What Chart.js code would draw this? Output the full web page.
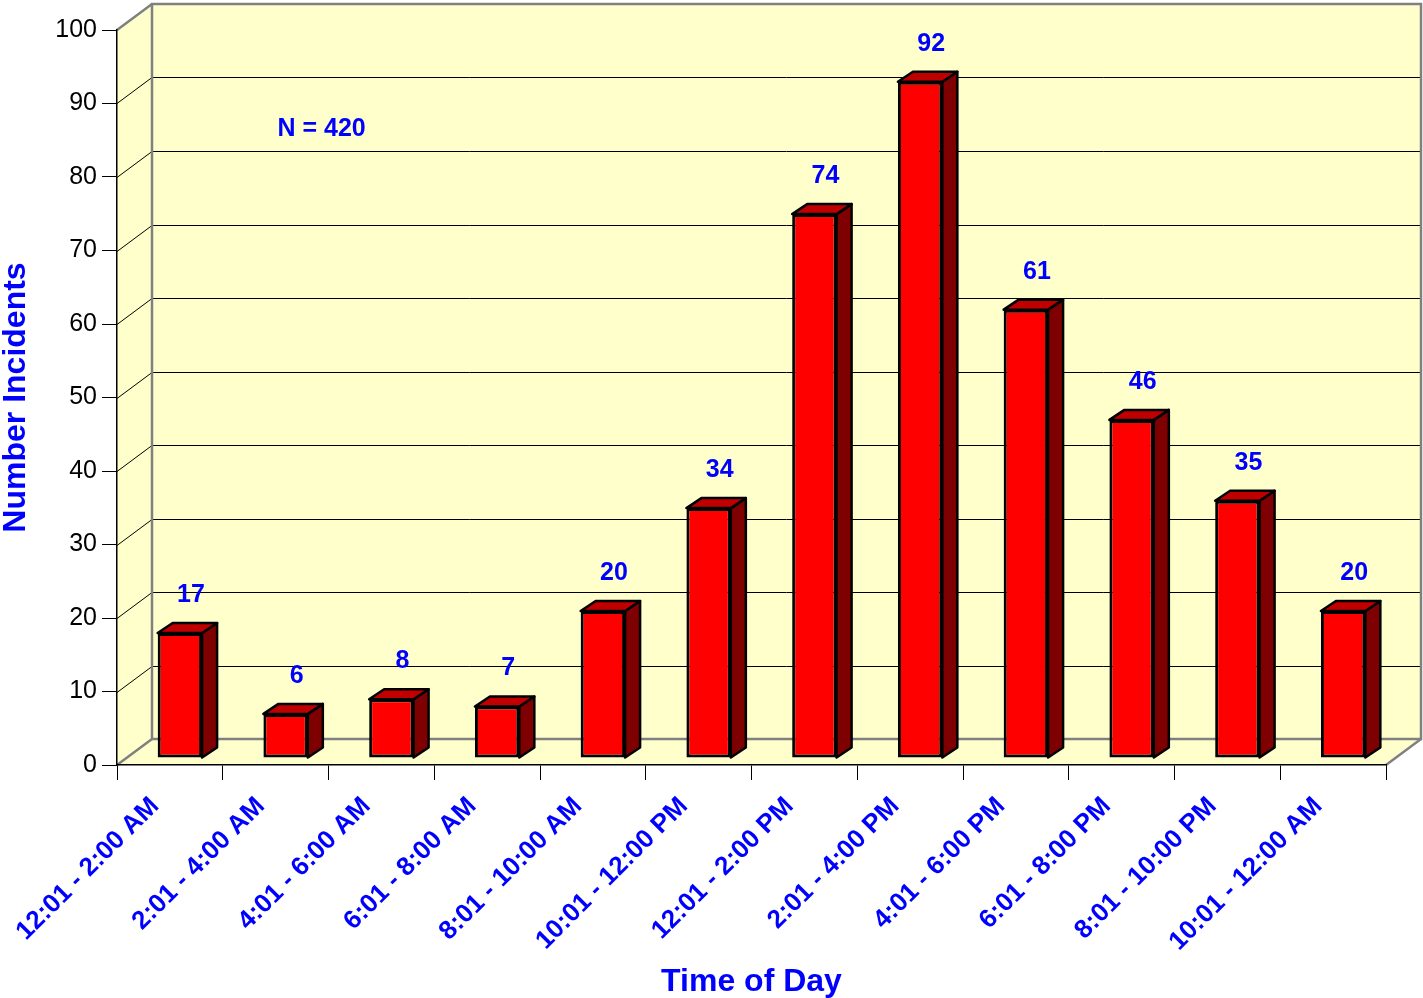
<!DOCTYPE html>
<html>
<head>
<meta charset="utf-8">
<title>Incidents by Time of Day</title>
<script src="https://cdn.jsdelivr.net/npm/chart.js@4.4.0/dist/chart.umd.min.js"></script>
<style>
    body { margin: 0; background: #ffffff; }
    canvas { display: block; }
</style>
</head>
<body>
<canvas id="graficoIncidentes" width="1423" height="998"></canvas>
<script>
// Chart data
const timeLabels = [
    '12:01 - 2:00 AM', '2:01 - 4:00 AM', '4:01 - 6:00 AM', '6:01 - 8:00 AM',
    '8:01 - 10:00 AM', '10:01 - 12:00 PM', '12:01 - 2:00 PM', '2:01 - 4:00 PM',
    '4:01 - 6:00 PM', '6:01 - 8:00 PM', '8:01 - 10:00 PM', '10:01 - 12:00 AM'
];
const incidents = [17, 6, 8, 7, 20, 34, 74, 92, 61, 46, 35, 20];
const yTickValues = [0, 10, 20, 30, 40, 50, 60, 70, 80, 90, 100];

const FONT = 'Arial, "Liberation Sans", sans-serif';
const BLUE = '#0000FF';

// 3D look: depth of the box and of the bars
const DEPTH_X = 35, DEPTH_Y = 26;
const BAR_SHIFT_X = 10, BAR_SHIFT_Y = 7;
const BAR_DX = 15, BAR_DY = 10;

function poligono(ctx, pts) {
    ctx.beginPath();
    ctx.moveTo(pts[0][0], pts[0][1]);
    for (let i = 1; i < pts.length; i++) ctx.lineTo(pts[i][0], pts[i][1]);
    ctx.closePath();
}

// Back wall, left wall, floor and the gridlines on them
const wallsPlugin = {
    id: 'walls',
    beforeDraw(chart) {
        const { ctx, chartArea: a, scales: { y } } = chart;
        const yTop = y.getPixelForValue(yTickValues[yTickValues.length - 1]);
        const yBot = y.getPixelForValue(yTickValues[0]);
        const bx = a.left + DEPTH_X;
        const br = a.right + DEPTH_X;

        ctx.save();
        ctx.fillStyle = '#FFFFCC';
        ctx.fillRect(bx, yTop - DEPTH_Y, br - bx, yBot - yTop);
        poligono(ctx, [[a.left, yTop], [bx, yTop - DEPTH_Y], [bx, yBot - DEPTH_Y], [a.left, yBot]]);
        ctx.fill();
        poligono(ctx, [[a.left, yBot], [bx, yBot - DEPTH_Y], [br, yBot - DEPTH_Y], [a.right, yBot]]);
        ctx.fill();

        // gridlines
        ctx.strokeStyle = '#000000';
        ctx.lineWidth = 1;
        yTickValues.slice(1, -1).forEach(v => {
            const py = Math.round(y.getPixelForValue(v)) + 0.5;
            ctx.beginPath();
            ctx.moveTo(a.left, py);
            ctx.lineTo(bx, py - DEPTH_Y);
            ctx.lineTo(br, py - DEPTH_Y);
            ctx.stroke();
        });

        // grey edges of the box
        ctx.strokeStyle = '#808080';
        ctx.lineWidth = 2.5;
        ctx.strokeRect(bx, yTop - DEPTH_Y, br - bx, yBot - yTop);
        ctx.beginPath();
        ctx.moveTo(a.left, yTop);
        ctx.lineTo(bx, yTop - DEPTH_Y);
        ctx.moveTo(a.left, yBot);
        ctx.lineTo(bx, yBot - DEPTH_Y);
        ctx.moveTo(a.right, yBot);
        ctx.lineTo(br, yBot - DEPTH_Y);
        ctx.stroke();
        ctx.restore();
    }
};

// Bars are pushed into the box, then get a top and a side face
const bars3dPlugin = {
    id: 'bars3d',
    beforeDatasetsDraw(chart) {
        chart.ctx.save();
        chart.ctx.translate(BAR_SHIFT_X, -BAR_SHIFT_Y);
    },
    afterDatasetsDraw(chart) {
        const ctx = chart.ctx;
        const barras = chart.getDatasetMeta(0).data;
        ctx.lineWidth = 2.5;
        ctx.lineJoin = 'round';
        ctx.strokeStyle = '#000000';
        barras.forEach(bar => {
            const { x, y, base, width } = bar.getProps(['x', 'y', 'base', 'width'], true);
            const l = x - width / 2, r = x + width / 2;
            // side
            poligono(ctx, [[r, y], [r + BAR_DX, y - BAR_DY], [r + BAR_DX, base - BAR_DY], [r, base]]);
            ctx.fillStyle = '#7F0000';
            ctx.fill();
            ctx.stroke();
            // top
            poligono(ctx, [[l, y], [l + BAR_DX, y - BAR_DY], [r + BAR_DX, y - BAR_DY], [r, y]]);
            ctx.fillStyle = '#C00000';
            ctx.fill();
            ctx.stroke();
        });
        ctx.restore();

        // value labels
        ctx.save();
        ctx.fillStyle = BLUE;
        ctx.font = 'bold 25px ' + FONT;
        ctx.textAlign = 'center';
        ctx.textBaseline = 'middle';
        barras.forEach((bar, i) => {
            ctx.fillText(String(incidents[i]), bar.x + 21, bar.y - 45);
        });

        // N = total
        const total = incidents.reduce((s, v) => s + v, 0);
        const { x: xs, y: ys } = chart.scales;
        ctx.fillText('N = ' + total, xs.getPixelForValue(1) + 46, ys.getPixelForValue(86.5));
        ctx.restore();
    }
};

function inicializarGrafico() {
    const ctx = document.getElementById('graficoIncidentes').getContext('2d');
    new Chart(ctx, {
        type: 'bar',
        data: {
            labels: timeLabels,
            datasets: [{
                label: 'Incidents',
                data: incidents,
                backgroundColor: '#FF0000',
                borderColor: '#000000',
                borderWidth: 3,
                borderSkipped: false,
                barPercentage: 0.42,
                categoryPercentage: 1
            }]
        },
        options: {
            responsive: false,
            animation: false,
            layout: { padding: { top: 30, right: 37, left: 0, bottom: 0 } },
            plugins: {
                legend: { display: false },
                tooltip: { enabled: false }
            },
            scales: {
                x: {
                    afterFit(s) { s.height = 233; },
                    grid: { drawOnChartArea: false, tickLength: 15, color: '#000000', offset: true },
                    border: { color: '#000000', width: 1.5 },
                    ticks: {
                        color: BLUE,
                        font: { family: FONT, size: 26, weight: 'bold' },
                        minRotation: 45,
                        maxRotation: 45,
                        padding: 11,
                        labelOffset: -15
                    },
                    title: {
                        display: true,
                        text: 'Time of Day',
                        color: BLUE,
                        font: { family: FONT, size: 32, weight: 'bold', lineHeight: 1 },
                        padding: { top: 0, bottom: 0 }
                    }
                },
                y: {
                    min: 0,
                    max: 100,
                    afterFit(s) { s.width = 117; },
                    afterBuildTicks(s) { s.ticks = yTickValues.map(v => ({ value: v })); },
                    grid: { drawOnChartArea: false, tickLength: 15, color: '#000000' },
                    border: { color: '#000000', width: 1.5 },
                    ticks: {
                        color: '#000000',
                        font: { family: FONT, size: 25 },
                        padding: 5
                    },
                    title: {
                        display: true,
                        text: 'Number Incidents',
                        color: BLUE,
                        font: { family: FONT, size: 32, weight: 'bold', lineHeight: 1 },
                        padding: { top: 0, bottom: 0 }
                    }
                }
            }
        },
        plugins: [wallsPlugin, bars3dPlugin]
    });
}

document.addEventListener('DOMContentLoaded', () => {
    inicializarGrafico();
});
</script>
</body>
</html>
